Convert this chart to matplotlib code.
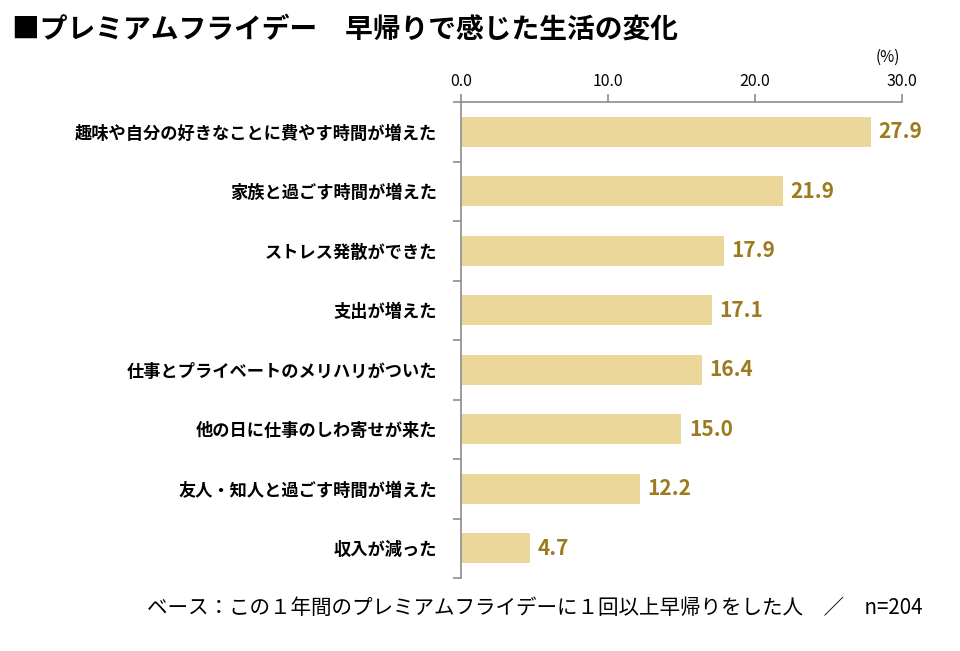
import matplotlib
matplotlib.use("Agg")
import matplotlib.pyplot as plt

plt.rcParams['font.family'] = ['Noto Sans CJK JP', 'DejaVu Sans']

categories = [
    "趣味や自分の好きなことに費やす時間が増えた",
    "家族と過ごす時間が増えた",
    "ストレス発散ができた",
    "支出が増えた",
    "仕事とプライベートのメリハリがついた",
    "他の日に仕事のしわ寄せが来た",
    "友人・知人と過ごす時間が増えた",
    "収入が減った",
]
values = [27.9, 21.9, 17.9, 17.1, 16.4, 15.0, 12.2, 4.7]
xticks = [0, 10, 20, 30]

bar_color = "#EBD79A"
label_color = "#9C7A1E"
axis_color = "#8C8C8C"

fig = plt.figure(figsize=(9.6, 6.51), dpi=100)
ax = fig.add_axes([0.480, 0.1121, 0.4596, 0.7312])

pos = list(range(len(categories)))
ax.barh(pos, values, height=0.5, color=bar_color)
ax.set_ylim(len(categories) - 0.5, -0.5)
ax.set_xlim(0, 30)

for p, v in zip(pos, values):
    ax.text(v + 0.5, p, f"{v:.1f}", va="center", ha="left",
            fontsize=15, fontweight="bold", color=label_color)

ax.set_yticks(pos)
ax.set_yticklabels(categories, fontsize=12.4, fontweight="bold")
ax.set_yticks([p + 0.5 for p in pos[:-1]] + [-0.5, len(categories) - 0.5], minor=True)
ax.tick_params(axis="y", which="major", length=0, pad=17)
ax.tick_params(axis="y", which="minor", length=6, color=axis_color, width=1.2)

ax.xaxis.tick_top()
ax.set_xticks(xticks)
ax.set_xticklabels([f"{t:.1f}" for t in xticks], fontsize=11.5)
ax.tick_params(axis="x", length=6, color=axis_color, width=1.2, pad=3)

for s in ["right", "bottom"]:
    ax.spines[s].set_visible(False)
for s in ["top", "left"]:
    ax.spines[s].set_color(axis_color)
    ax.spines[s].set_linewidth(1.2)

fig.text(0.937, 0.912, "(%)", ha="right", va="center", fontsize=11)
fig.text(0.012, 0.955, "■プレミアムフライデー　早帰りで感じた生活の変化",
         ha="left", va="center", fontsize=20, fontweight="bold")
fig.text(0.961, 0.066, "ベース：この１年間のプレミアムフライデーに１回以上早帰りをした人　／　n=204",
         ha="right", va="center", fontsize=14.8)

fig.savefig("out.png", dpi=100)
